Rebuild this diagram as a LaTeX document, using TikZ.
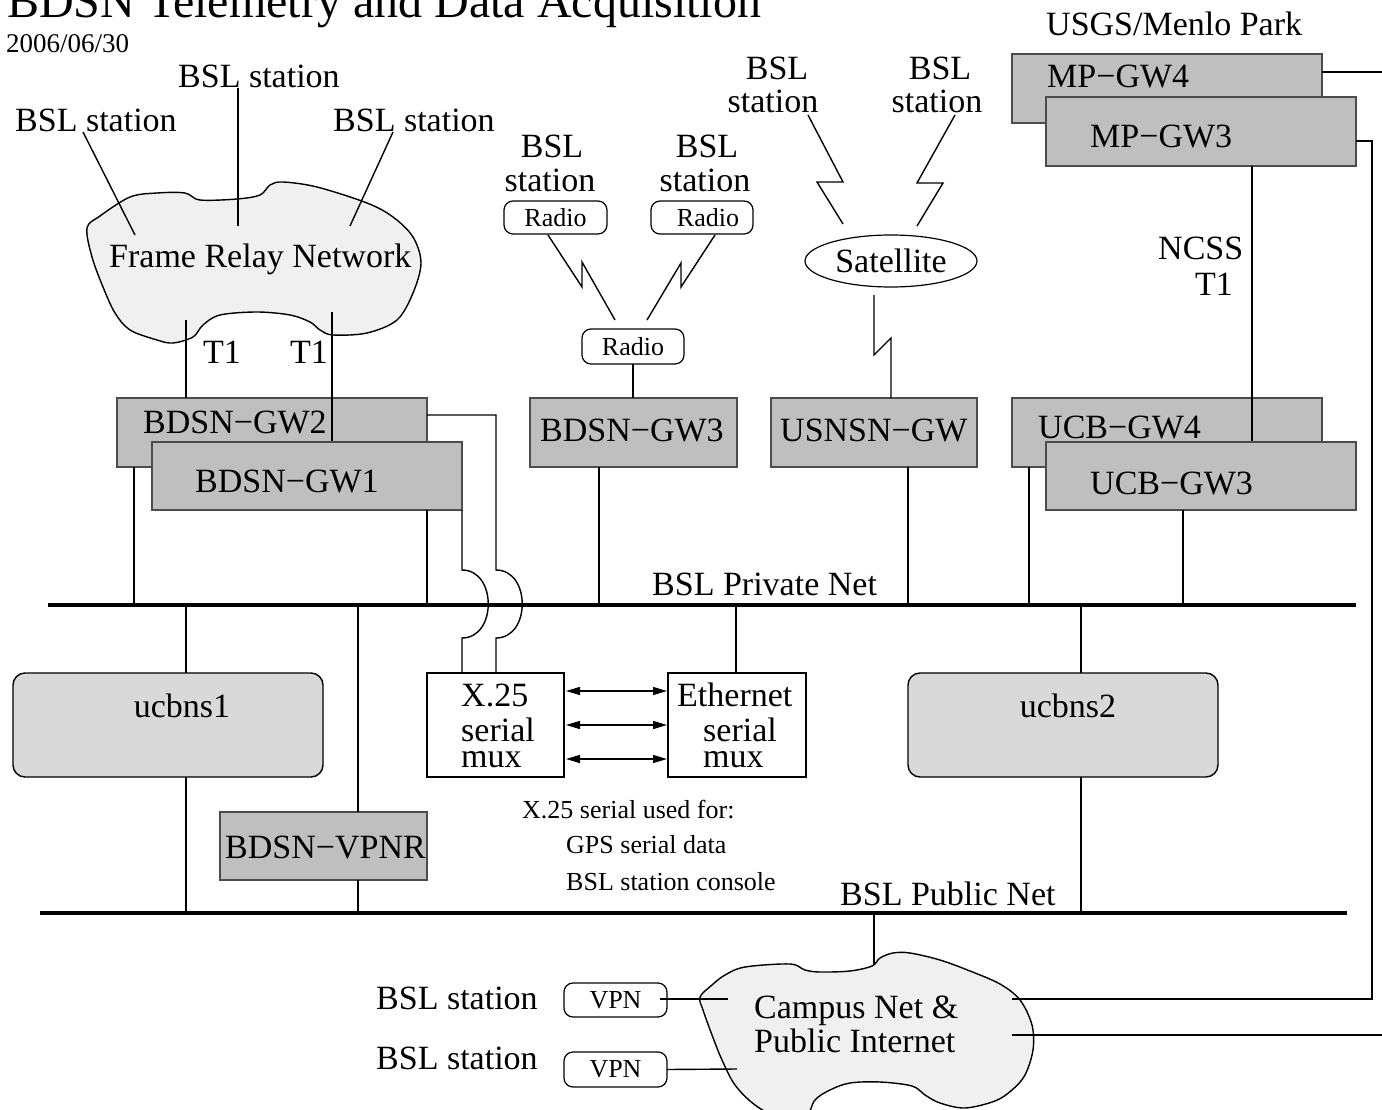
\documentclass[tikz,border=0pt]{standalone}
\usepackage{fontspec}
\setmainfont{Liberation Serif}
\usetikzlibrary{calc,shapes.geometric,arrows.meta}
\definecolor{boxgray}{gray}{0.75}
\definecolor{hostgray}{gray}{0.85}
\definecolor{cloudgray}{gray}{0.94}
\definecolor{edgegray}{gray}{0.3}
\newcommand{\bigfont}{\fontsize{34}{38}\selectfont}
\newcommand{\smallfont}{\fontsize{26}{30}\selectfont}
\begin{document}
\begin{tikzpicture}[x=1pt,y=-1pt,
  conn/.style={line width=1.4pt},
  net/.style={line width=3.8pt},
  lbl/.style={anchor=base west, inner sep=0pt, font=\bigfont},
  clbl/.style={anchor=base, inner sep=0pt, font=\bigfont},
  slbl/.style={anchor=base west, inner sep=0pt, font=\smallfont},
  gwbox/.style={draw=edgegray, fill=boxgray, line width=1.2pt, anchor=north west, inner sep=0pt, outer sep=0pt},
  hostbox/.style={draw=black, fill=hostgray, line width=1.4pt, rounded corners=12pt, anchor=north west, inner sep=0pt, outer sep=0pt},
  muxbox/.style={draw=black, fill=white, line width=1.2pt, anchor=north west, inner sep=0pt, outer sep=0pt},
  radiobox/.style={draw=black, fill=white, line width=1.2pt, rounded corners=9pt, anchor=north west, inner sep=0pt, outer sep=0pt, font=\smallfont},
  cloud/.style={draw=black, fill=cloudgray, line width=1.4pt},
  twoway/.style={line width=1.4pt, {Triangle[length=14pt,width=8pt]}-{Triangle[length=14pt,width=8pt]}}
]
\useasboundingbox (0,0) rectangle (1382,1110);
\clip (0,0) rectangle (1382,1110);
\fill[white] (0,0) rectangle (1382,1110);

% ---------- title ----------
\node[anchor=base west, inner sep=0pt, font=\fontsize{48}{52}\selectfont] (title) at (7,18) {BDSN Telemetry and Data Acquisition};
\node[anchor=base west, inner sep=0pt, font=\fontsize{27}{30}\selectfont] (date) at (6,53) {2006/06/30};

% ---------- frame relay network ----------
\draw[cloud] plot[smooth cycle, tension=0.55] coordinates {
 (87,228) (100,216) (130,197) (157,193) (185,193) (200,200) (237,199) (260,195)
 (270,185) (283,182) (317,187) (367,203) (393,217) (413,237) (421,263) (413,293)
 (397,320) (367,333) (333,335) (320,330) (310,322) (290,315) (257,312) (220,315)
 (203,325) (193,337) (173,343) (157,340) (130,330) (115,313) (103,287) (92,257)};
\node[lbl] (frtxt) at (109,268) {Frame Relay Network};

\node[lbl] (stA) at (15,132) {BSL station};
\node[lbl] (stB) at (178,88) {BSL station};
\node[lbl] (stC) at (333,132) {BSL station};
\coordinate (stAp) at (83,132);  \coordinate (frA) at (135,235);
\coordinate (stBp) at (238,88);  \coordinate (frB) at (238,226);
\coordinate (stCp) at (393,132); \coordinate (frC) at (350,226);
\draw[conn] (stAp) -- (frA);
\draw[conn] (stBp) -- (frB);
\draw[conn] (stCp) -- (frC);

\node[lbl] (t1a) at (203,363) {T1};
\node[lbl] (t1b) at (290,363) {T1};
\coordinate (frD) at (186,320);
\coordinate (frE) at (332,312);

% ---------- BDSN gateways ----------
\node[gwbox, minimum width=310pt, minimum height=69pt] (gw2) at (117,398) {};
\draw[conn] (frD) -- (frD |- gw2.north);
\node[lbl] (gw2txt) at (143,433) {BDSN−GW2};
\draw[conn] (frE) -- (frE |- 0,442);
\node[gwbox, minimum width=310pt, minimum height=68pt] (gw1) at (152,442) {};
\node[lbl] (gw1txt) at (195,492) {BDSN−GW1};

% ---------- networks ----------
\coordinate (pvL) at (48,605);  \coordinate (pvR) at (1356,605);
\coordinate (pbL) at (40,913);  \coordinate (pbR) at (1347,913);
\node[lbl] (pvtxt) at (652,595) {BSL Private Net};
\node[lbl] (pbtxt) at (840,905) {BSL Public Net};

% ---------- serial muxes ----------
\node[muxbox, minimum width=137pt, minimum height=104pt] (x25) at (427,673) {};
\node[muxbox, minimum width=138pt, minimum height=104pt] (eth) at (668,673) {};
\node[lbl] (x25a) at (461,706) {X.25};
\node[lbl] (x25b) at (461,741) {serial};
\node[lbl] (x25c) at (461,767) {mux};
\node[lbl] (etha) at (677,706) {Ethernet};
\node[lbl] (ethb) at (703,741) {serial};
\node[lbl] (ethc) at (703,767) {mux};
\draw[twoway] ($(x25.east)+(2,-34)$) -- ($(eth.west)+(-1,-34)$);
\draw[twoway] ($(x25.east)+(2,0)$) -- ($(eth.west)+(-1,0)$);
\draw[twoway] ($(x25.east)+(2,34)$) -- ($(eth.west)+(-1,34)$);
\node[slbl] (nt1) at (522,818) {X.25 serial used for:};
\node[slbl] (nt2) at (566,853) {GPS serial data};
\node[slbl] (nt3) at (566,890) {BSL station console};

% gateway drops onto the private net
\path (gw2.south west) ++(17,0) coordinate (gw2d);
\draw[conn] (gw2d) -- (gw2d |- pvL);
\path (gw1.south west) ++(275,0) coordinate (gw1d);
\draw[conn] (gw1d) -- (gw1d |- pvL);

% serial lines hopping over the private net
\coordinate (h1s) at (462,570); \coordinate (h1e) at (462,638);
\draw[conn] (gw1.south east) -- (h1s) .. controls (497,570) and (497,638) .. (h1e) -- (h1e |- x25.north);
\path (gw2.north east) ++(0,17) coordinate (gw2r);
\coordinate (h2t) at (496,415);
\coordinate (h2s) at (496,570); \coordinate (h2e) at (496,638);
\draw[conn] (gw2r) -- (h2t) -- (h2s) .. controls (531,570) and (531,638) .. (h2e) -- (h2e |- x25.north);

\path (eth.north west) ++(68,0) coordinate (ethx);
\draw[conn] (ethx |- pvL) -- (ethx);

% ---------- radio links ----------
\node[clbl] (rsA1) at (552,158) {BSL};
\node[clbl] (rsA2) at (550,192) {station};
\node[clbl] (rsB1) at (707,158) {BSL};
\node[clbl] (rsB2) at (705,192) {station};
\node[radiobox, minimum width=103pt, minimum height=33pt] (radA) at (504,201) {Radio};
\node[radiobox, minimum width=102pt, minimum height=33pt] (radB) at (651,201) {\hspace*{12pt}Radio};
\node[radiobox, minimum width=102pt, minimum height=35pt] (radC) at (582,329) {Radio};
\coordinate (zA0) at (548,235); \coordinate (zA3) at (615,320);
\coordinate (zB0) at (715,235); \coordinate (zB3) at (647,320);
\draw[conn] (zA0) -- (582,287) -- (582,262) -- (zA3);
\draw[conn] (zB0) -- (681,287) -- (681,263) -- (zB3);

\node[gwbox, minimum width=207pt, minimum height=69pt] (gw3) at (530,398) {};
\node[lbl] (gw3txt) at (540,441) {BDSN−GW3};
\draw[conn] (radC.south) -- (radC.south |- gw3.north);
\path (gw3.south west) ++(69,0) coordinate (gw3d);
\draw[conn] (gw3d) -- (gw3d |- pvL);

% ---------- satellite links ----------
\node[clbl] (ssA1) at (777,80) {BSL};
\node[clbl] (ssA2) at (773,113) {station};
\node[clbl] (ssB1) at (940,80) {BSL};
\node[clbl] (ssB2) at (937,113) {station};
\node[draw=black, line width=1.2pt, fill=white, ellipse, minimum width=172pt, minimum height=52pt, inner sep=0pt, font=\bigfont] (sat) at (891,261) {Satellite};
\coordinate (sA0) at (808,115); \coordinate (sA3) at (843,224);
\coordinate (sB0) at (955,115); \coordinate (sB3) at (917,226);
\draw[conn] (sA0) -- (843,182) -- (817,182) -- (sA3);
\draw[conn] (sB0) -- (917,183) -- (943,183) -- (sB3);

\node[gwbox, minimum width=206pt, minimum height=69pt] (usn) at (771,398) {};
\node[lbl] (usntxt) at (780,441) {USNSN−GW};
\coordinate (sC0) at (874,295);
\coordinate (sC3) at (891,338);
\draw[conn] (sC0) -- (874,355) -- (sC3) -- (sC3 |- usn.north);
\path (usn.south west) ++(137,0) coordinate (usnd);
\draw[conn] (usnd) -- (usnd |- pvL);

% ---------- Menlo Park and UCB gateways ----------
\node[lbl] (usgs) at (1046,36) {USGS/Menlo Park};
\node[gwbox, minimum width=310pt, minimum height=69pt] (mp4) at (1012,54) {};
\node[lbl] (mp4txt) at (1047,88) {MP−GW4};
\node[gwbox, minimum width=310pt, minimum height=69pt] (mp3) at (1046,97) {};
\node[lbl] (mp3txt) at (1090,148) {MP−GW3};
\node[lbl] (ncss) at (1158,260) {NCSS};
\node[lbl] (ncsst) at (1195,295) {T1};

\node[gwbox, minimum width=310pt, minimum height=69pt] (ucb4) at (1012,398) {};
\node[lbl] (ucb4txt) at (1038,438) {UCB−GW4};
\path (mp3.south west) ++(206,0) coordinate (ncx);
\draw[conn] (ncx) -- (ncx |- 0,442);
\node[gwbox, minimum width=310pt, minimum height=68pt] (ucb3) at (1046,442) {};
\node[lbl] (ucb3txt) at (1090,494) {UCB−GW3};
\path (ucb4.south west) ++(17,0) coordinate (ucb4d);
\draw[conn] (ucb4d) -- (ucb4d |- pvL);
\path (ucb3.south west) ++(137,0) coordinate (ucb3d);
\draw[conn] (ucb3d) -- (ucb3d |- pvL);

% ---------- hosts ----------
\node[hostbox, minimum width=310pt, minimum height=104pt] (ns1) at (13,673) {};
\node[clbl] (ns1txt) at (182,717) {ucbns1};
\node[hostbox, minimum width=310pt, minimum height=104pt] (ns2) at (908,673) {};
\node[clbl] (ns2txt) at (1068,717) {ucbns2};
\path (ns1.north west) ++(173,0) coordinate (ns1x);
\draw[conn] (ns1x |- pvL) -- (ns1x);
\draw[conn] (ns1x |- ns1.south) -- (ns1x |- pbL);
\path (ns2.north west) ++(173,0) coordinate (ns2x);
\draw[conn] (ns2x |- pvL) -- (ns2x);
\draw[conn] (ns2x |- ns2.south) -- (ns2x |- pbL);

\node[gwbox, minimum width=207pt, minimum height=68pt] (vpnr) at (220,812) {};
\node[lbl] (vpnrtxt) at (225,858) {BDSN−VPNR};
\path (vpnr.north west) ++(138,0) coordinate (vpx);
\draw[conn] (vpx |- pvL) -- (vpx);
\draw[conn] (vpx |- vpnr.south) -- (vpx |- pbL);

% ---------- campus net ----------
\draw[cloud] plot[smooth cycle, tension=0.55] coordinates {
 (700,997) (712,985) (725,975) (745,967) (790,964) (805,970) (820,972) (850,971)
 (872,966) (880,958) (893,953) (910,953) (940,960) (970,971) (1000,984) (1020,1000)
 (1032,1025) (1033,1050) (1025,1075) (1012,1090) (995,1101) (965,1108) (940,1103)
 (925,1095) (912,1086) (880,1082) (850,1083) (830,1090) (815,1100) (805,1118)
 (780,1118) (755,1105) (735,1085) (722,1060) (712,1035) (703,1010)};
\node[lbl] (cn1) at (754,1018) {Campus Net \&};
\node[lbl] (cn2) at (754,1052) {Public Internet};
\coordinate (cnT) at (874,965);
\draw[conn] (cnT |- pbL) -- (cnT);

\node[lbl] (vsA) at (376,1009) {BSL station};
\node[lbl] (vsB) at (376,1069) {BSL station};
\node[radiobox, minimum width=103pt, minimum height=34pt] (vpnA) at (564,983) {VPN};
\node[radiobox, minimum width=103pt, minimum height=35pt] (vpnB) at (564,1052) {VPN};
\coordinate (cnV1) at (728,999);
\coordinate (cnV2) at (737,1069);
\draw[conn] ($(vpnA.east)+(-7,-1)$) -- (cnV1);
\draw[conn] (vpnB.east) -- (cnV2);

% links from Menlo Park to the campus net
\coordinate (eastE) at (1395,0);
\coordinate (riser) at (1372,0);
\coordinate (cnR1) at (1012,999);
\coordinate (cnR2) at (1012,1035);
\path (mp4.north east) ++(0,18) coordinate (mp4r);
\draw[conn] (mp4r) -- (mp4r -| eastE);
\path (mp3.north east) ++(0,44) coordinate (mp3r);
\draw[conn] (mp3r) -- (mp3r -| riser) -- (riser |- cnR1) -- (cnR1);
\draw[conn] (cnR2) -- (cnR2 -| eastE);

% net backbones
\draw[net] (pvL) -- (pvR);
\draw[net] (pbL) -- (pbR);
\end{tikzpicture}
\end{document}
